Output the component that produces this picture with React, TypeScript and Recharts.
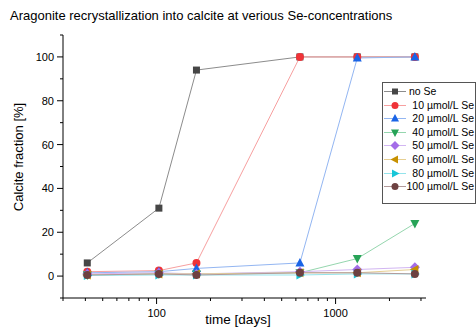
import { Line, LineChart, XAxis, YAxis } from "recharts";

const days = [41, 103, 167, 632, 1322, 2773];
const noSe = [6, 31, 94, 100, 100, 100];
const se10 = [2, 2.5, 6, 100, 100, 100];
const se20 = [1.5, 2, 3.5, 6, 99.5, 100];
const se40 = [0.5, 1, 1, 1.5, 8, 24];
const se50 = [1, 1.5, 1, 2, 3, 4];
const se60 = [0.5, 1, 1, 1.5, 1.5, 3];
const se80 = [0.3, 0.5, 0.5, 0.5, 1, 1];
const se100 = [0.5, 1, 0.5, 1.5, 1.5, 1];

const xTicks = [30, 40, 50, 60, 70, 80, 90, 100, 200, 300, 400, 500, 600, 700, 800, 900, 1000, 2000, 3000];
const yTicks = [-10, 0, 10, 20, 30, 40, 50, 60, 70, 80, 90, 100, 110];

type Shape = "square" | "circle" | "up" | "down" | "diamond" | "left" | "right";

const series: { key: string; name: string; values: number[]; color: string; line: string; shape: Shape }[] = [
  { key: "noSe", name: "no Se", values: noSe, color: "#464646", line: "#8c8c8c", shape: "square" },
  { key: "se10", name: "10 \u00b5mol/L Se", values: se10, color: "#ef3338", line: "#f7a0a0", shape: "circle" },
  { key: "se20", name: "20 \u00b5mol/L Se", values: se20, color: "#1a64e6", line: "#93b6f2", shape: "up" },
  { key: "se40", name: "40 \u00b5mol/L Se", values: se40, color: "#27a357", line: "#95d6ae", shape: "down" },
  { key: "se50", name: "50 \u00b5mol/L Se", values: se50, color: "#a46de8", line: "#d2b6f2", shape: "diamond" },
  { key: "se60", name: "60 \u00b5mol/L Se", values: se60, color: "#c79100", line: "#e6cf92", shape: "left" },
  { key: "se80", name: "80 \u00b5mol/L Se", values: se80, color: "#17c6d8", line: "#94e4ec", shape: "right" },
  { key: "se100", name: "100 \u00b5mol/L Se", values: se100, color: "#6d4141", line: "#b29a9a", shape: "circle" },
];

const data = days.map((d, i) => {
  const row: Record<string, number> = { days: d };
  series.forEach((s) => (row[s.key] = s.values[i]));
  return row;
});

function Marker({ cx, cy, shape, color, r = 4 }: { cx: number; cy: number; shape: Shape; color: string; r?: number }) {
  switch (shape) {
    case "square":
      return <rect x={cx - r + 0.5} y={cy - r + 0.5} width={2 * r - 1} height={2 * r - 1} fill={color} />;
    case "circle":
      return <circle cx={cx} cy={cy} r={r} fill={color} />;
    case "up":
      return <polygon points={`${cx},${cy - r - 1} ${cx + r + 0.5},${cy + r - 0.5} ${cx - r - 0.5},${cy + r - 0.5}`} fill={color} />;
    case "down":
      return <polygon points={`${cx},${cy + r + 1} ${cx + r + 0.5},${cy - r + 0.5} ${cx - r - 0.5},${cy - r + 0.5}`} fill={color} />;
    case "diamond":
      return <polygon points={`${cx},${cy - r - 1} ${cx + r + 1},${cy} ${cx},${cy + r + 1} ${cx - r - 1},${cy}`} fill={color} />;
    case "left":
      return <polygon points={`${cx - r - 1},${cy} ${cx + r - 0.5},${cy - r - 0.5} ${cx + r - 0.5},${cy + r + 0.5}`} fill={color} />;
    case "right":
      return <polygon points={`${cx + r + 1},${cy} ${cx - r + 0.5},${cy - r - 0.5} ${cx - r + 0.5},${cy + r + 0.5}`} fill={color} />;
  }
  return null;
}

const font = "'Liberation Sans', Arial, sans-serif";

function XTick({ x, y, payload }: any) {
  const major = payload.value === 100 || payload.value === 1000;
  return (
    <g>
      <line x1={x} x2={x} y1={y} y2={y + (major ? 6 : 3)} stroke="#000" strokeWidth={1} />
      {major && (
        <text x={x} y={y + 19} textAnchor="middle" fontSize={11} fontFamily={font} fill="#000">
          {payload.value}
        </text>
      )}
    </g>
  );
}

function YTick({ x, y, payload }: any) {
  const major = payload.value % 20 === 0 && payload.value >= 0 && payload.value <= 100;
  return (
    <g>
      <line x1={x} x2={x - (major ? 6 : 3)} y1={y} y2={y} stroke="#000" strokeWidth={1} />
      {major && (
        <text x={x - 9} y={y + 4} textAnchor="end" fontSize={11} fontFamily={font} fill="#000">
          {payload.value}
        </text>
      )}
    </g>
  );
}

function LegendBox() {
  return (
    <div
      style={{
        position: "absolute",
        left: 382,
        top: 82,
        width: 92,
        height: 120,
        border: "1px solid #555",
        background: "#fff",
        fontFamily: font,
        fontSize: 10.5,
      }}
    >
      {series.map((s, i) => (
        <div key={s.key} style={{ position: "absolute", left: 0, top: 2 + i * 13.6, width: 92, height: 13 }}>
          <svg width={24} height={13} style={{ position: "absolute", left: 1, top: 0 }}>
            <line x1={0} x2={22} y1={6.5} y2={6.5} stroke={s.line} strokeWidth={1} />
            <Marker cx={11} cy={6.5} shape={s.shape} color={s.color} r={3.5} />
          </svg>
          <span
            style={{
              position: "absolute",
              top: 0,
              lineHeight: "13px",
              whiteSpace: "nowrap",
              ...(i === 0 ? { left: 26 } : { right: 1 }),
            }}
          >
            {s.name}
          </span>
        </div>
      ))}
    </div>
  );
}

export default function App() {
  return (
    <div style={{ position: "absolute", left: 0, top: 0, width: 476, height: 329, background: "#fff", fontFamily: font }}>
      <div style={{ position: "absolute", left: 10, top: 8, fontSize: 13, whiteSpace: "nowrap", color: "#000" }}>
        Aragonite recrystallization into calcite at verious Se-concentrations
      </div>
      <LineChart width={476} height={329} data={data} margin={{ top: 35, right: 50, bottom: 30, left: 62 }}>
        <XAxis
          dataKey="days"
          type="number"
          scale="log"
          domain={[30, 3200]}
          ticks={xTicks}
          interval={0}
          allowDataOverflow
          height={1}
          tickSize={0}
          tickMargin={0}
          tick={<XTick />}
          stroke="#000"
        />
        <YAxis
          type="number"
          domain={[-10, 110]}
          ticks={yTicks}
          interval={0}
          allowDataOverflow
          width={1}
          tickSize={0}
          tickMargin={0}
          tick={<YTick />}
          stroke="#000"
        />
        {series.map((s) => (
          <Line
            key={s.key}
            dataKey={s.key}
            name={s.name}
            stroke={s.line}
            strokeWidth={1}
            isAnimationActive={false}
            dot={(p: any) => <Marker key={`${s.key}-${p.index}`} cx={p.cx} cy={p.cy} shape={s.shape} color={s.color} />}
            activeDot={false}
          />
        ))}
      </LineChart>
      <LegendBox />
      <div
        style={{
          position: "absolute",
          left: 18,
          top: 157,
          transform: "translate(-50%, -50%) rotate(-90deg)",
          fontSize: 13,
          whiteSpace: "nowrap",
        }}
      >
        Calcite fraction [%]
      </div>
      <div style={{ position: "absolute", left: 238, top: 319, transform: "translate(-50%, -50%)", fontSize: 13.5, whiteSpace: "nowrap" }}>
        time [days]
      </div>
    </div>
  );
}
